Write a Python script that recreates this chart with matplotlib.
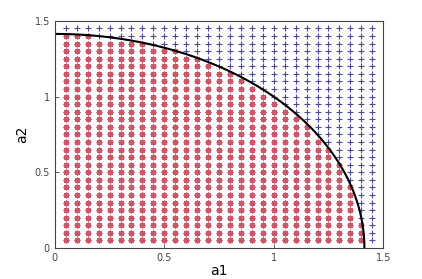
import numpy as np
import matplotlib.pyplot as plt

# grid of sample points (same values on both axes)
grid_vals = [0.05, 0.10, 0.15, 0.20, 0.25, 0.30, 0.35, 0.40, 0.45, 0.50,
             0.55, 0.60, 0.65, 0.70, 0.75, 0.80, 0.85, 0.90, 0.95, 1.00,
             1.05, 1.10, 1.15, 1.20, 1.25, 1.30, 1.35, 1.40, 1.45]
radius = np.sqrt(2.0)  # boundary a1^2 + a2^2 = 2
ticks = [0, 0.5, 1, 1.5]
tick_labels = ['0', '0.5', '1', '1.5']

A1, A2 = np.meshgrid(grid_vals, grid_vals)
A1 = A1.ravel()
A2 = A2.ravel()
inside = A1**2 + A2**2 < radius**2 - 1e-9

theta = np.linspace(0, np.pi / 2, 200)

fig = plt.figure(figsize=(4.22, 2.79), dpi=100)
ax = fig.add_axes([0.130, 0.111, 0.778, 0.814])

ax.plot(A1[inside], A2[inside], linestyle='none', marker=(8, 2, 0),
        markersize=4.2, markeredgewidth=0.9, color='#c23a4e', alpha=0.85)
ax.plot(A1[~inside], A2[~inside], linestyle='none', marker='+',
        markersize=4.5, markeredgewidth=0.8, color='#4a4a98')
ax.plot(radius * np.cos(theta), radius * np.sin(theta), 'k-', linewidth=1.5)

ax.set_xlim(0, 1.5)
ax.set_ylim(0, 1.5)
ax.set_xticks(ticks)
ax.set_xticklabels(tick_labels)
ax.set_yticks(ticks)
ax.set_yticklabels(tick_labels)
ax.tick_params(direction='in', length=3, width=0.6, labelsize=7,
               labelcolor='#444444', color='#444444')
for s in ax.spines.values():
    s.set_linewidth(0.8)
    s.set_color('#444444')

ax.set_xlabel('a1', fontsize=10, labelpad=1)
ax.set_ylabel('a2', fontsize=10, labelpad=4)

fig.savefig('out.png', dpi=100)
